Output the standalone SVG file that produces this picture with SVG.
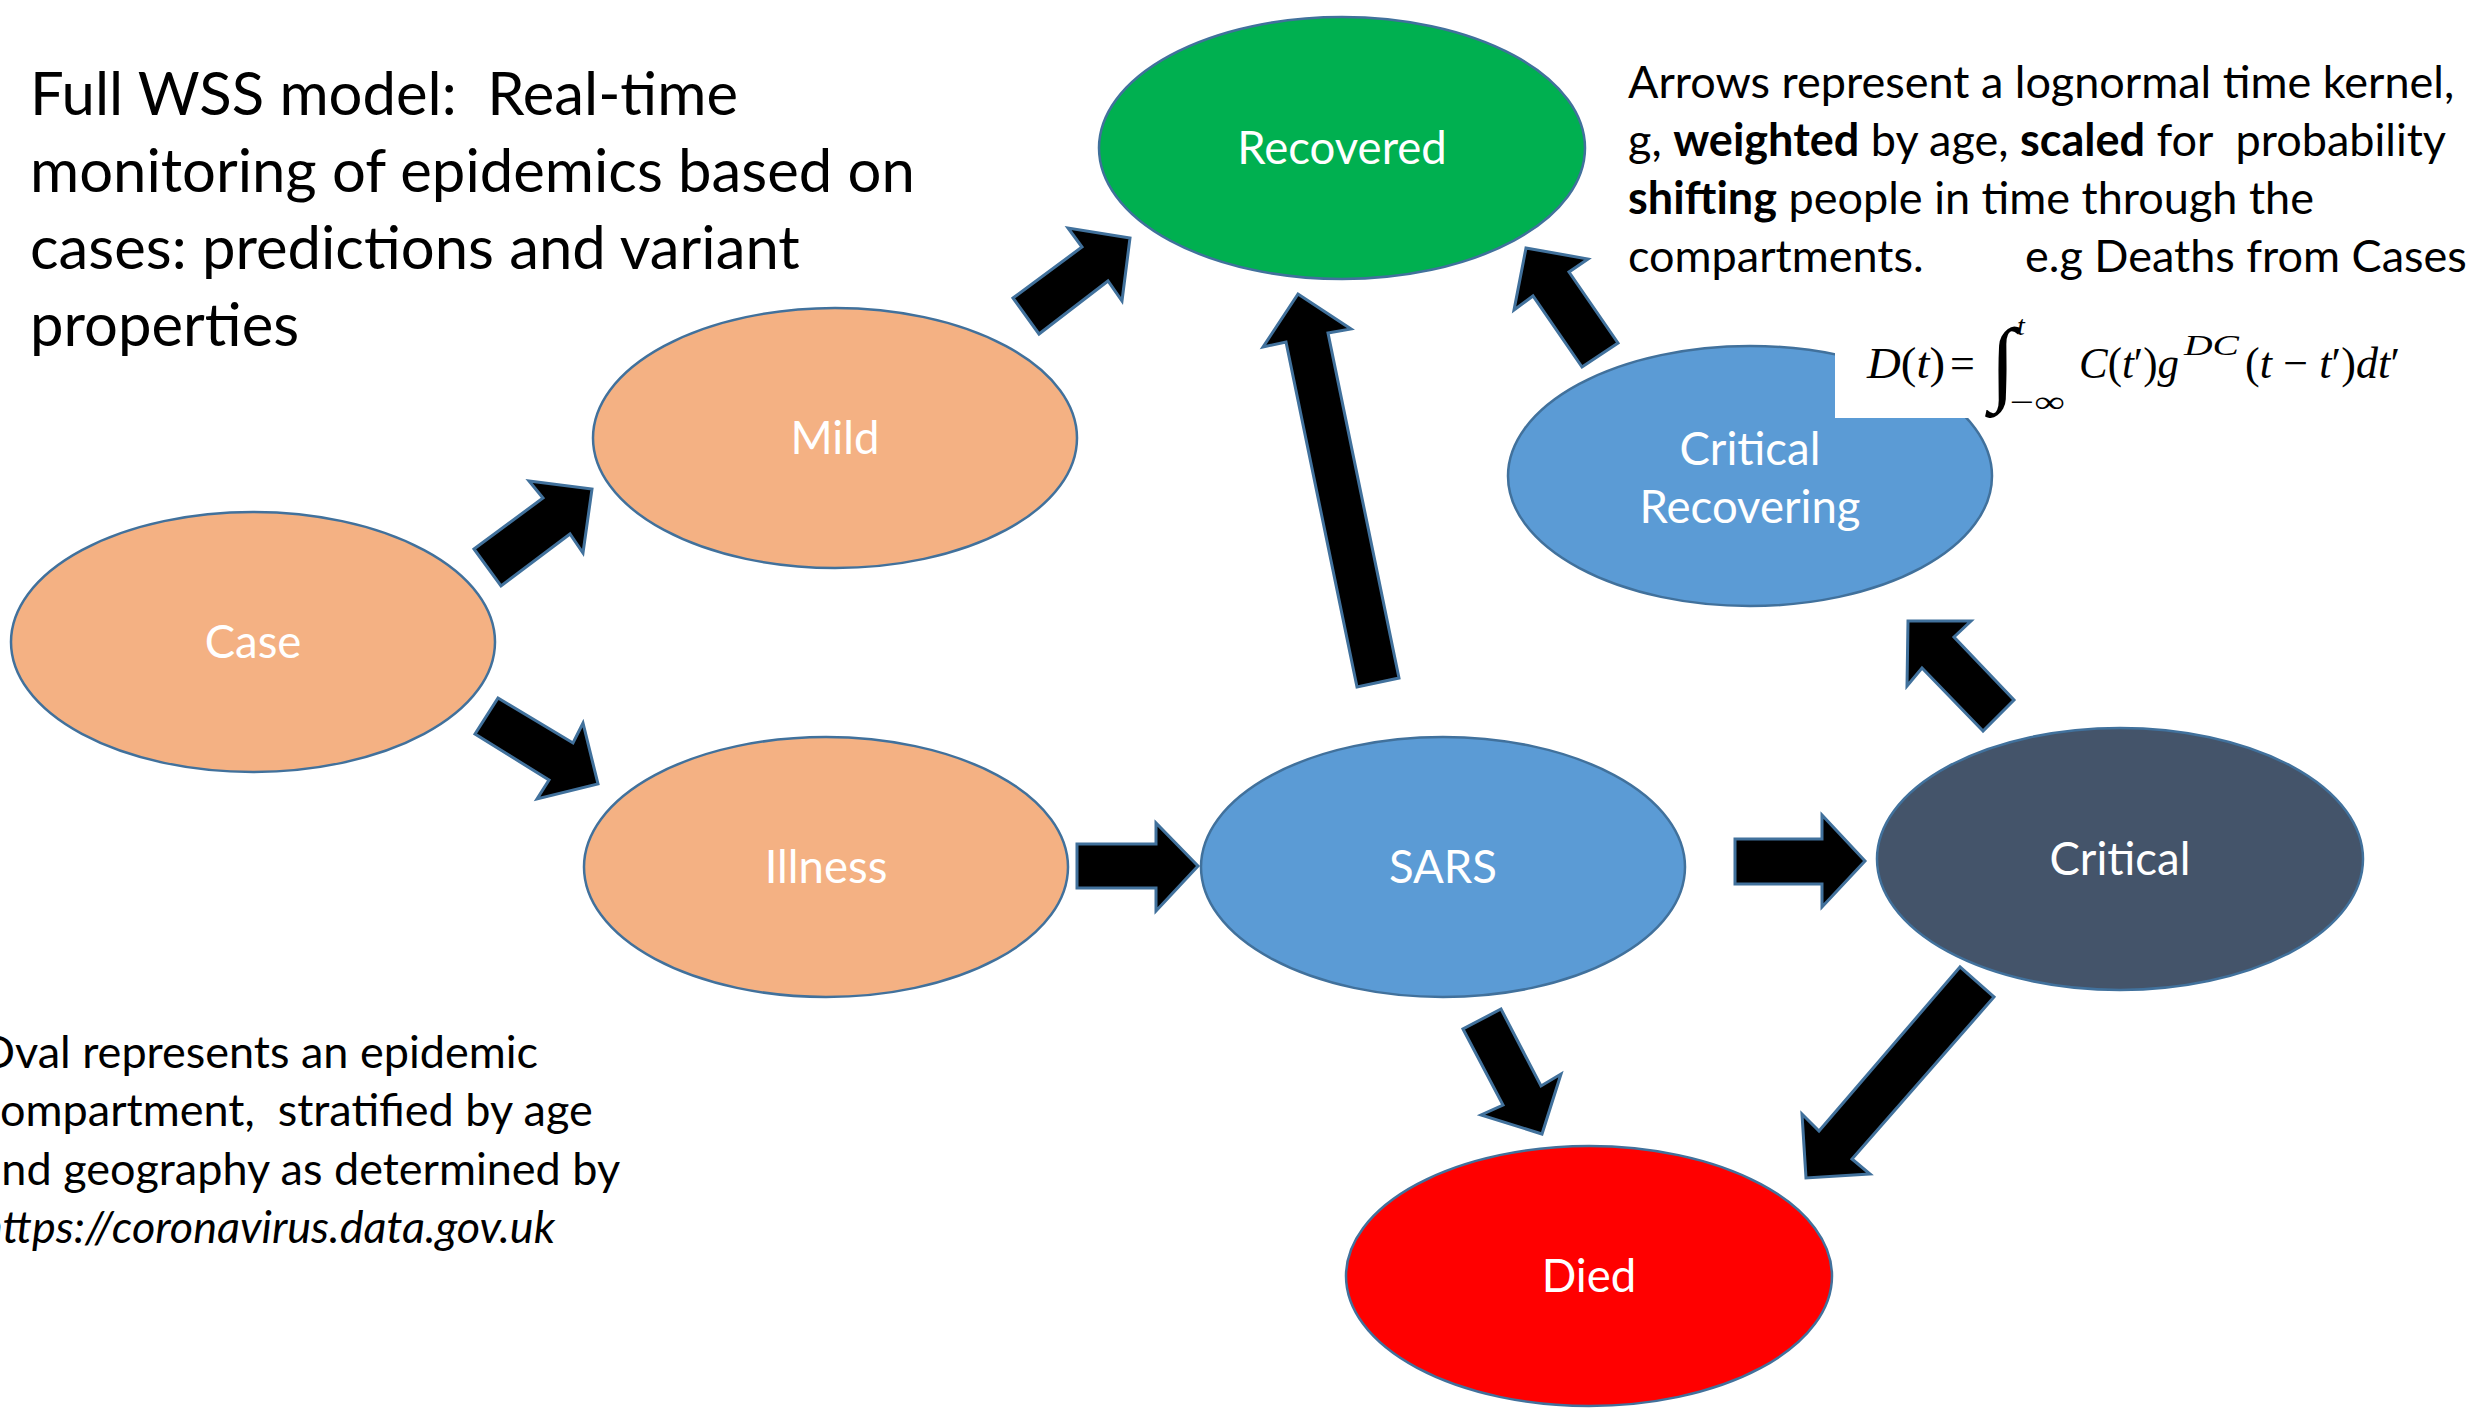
<svg xmlns="http://www.w3.org/2000/svg" width="2481" height="1408" viewBox="0 0 2481 1408">
<style>
.node ellipse{stroke:#41719C;stroke-width:2.5}
.lbl{font-family:Lato,"Open Sans",sans-serif;font-size:45.5px;fill:#fff;text-anchor:middle}
.arrow{fill:#000;stroke:#41719C;stroke-width:3;stroke-linejoin:miter}
.body{font-family:Lato,"Open Sans",sans-serif;font-size:45px;fill:#000;white-space:pre}
.title{font-family:Lato,"Open Sans",sans-serif;font-size:59.8px;fill:#000;white-space:pre}
.math{font-family:"Liberation Serif","DejaVu Serif",serif;fill:#000}
.peach{fill:#F4B183}.blue{fill:#5B9BD5}
</style>
<rect width="2481" height="1408" fill="#fff"/>
<g id="title">
<text class="title" x="30" y="115" xml:space="preserve">Full WSS model:  Real-time</text>
<text class="title" x="30" y="192">monitoring of epidemics based on</text>
<text class="title" x="30" y="269">cases: predictions and variant</text>
<text class="title" x="30" y="346">properties</text>
</g>
<g id="node-recovered" class="node"><ellipse cx="1342" cy="148" rx="243" ry="131" fill="#00B050"/><text class="lbl" x="1342" y="164">Recovered</text></g>
<g id="node-mild" class="node"><ellipse class="peach" cx="835" cy="438" rx="242" ry="130"/><text class="lbl" x="835" y="454">Mild</text></g>
<g id="node-case" class="node"><ellipse class="peach" cx="253" cy="642" rx="242" ry="130"/><text class="lbl" x="253" y="658">Case</text></g>
<g id="node-illness" class="node"><ellipse class="peach" cx="826" cy="867" rx="242" ry="130"/><text class="lbl" x="826" y="883">Illness</text></g>
<g id="node-sars" class="node"><ellipse class="blue" cx="1443" cy="867" rx="242" ry="130"/><text class="lbl" x="1443" y="883">SARS</text></g>
<g id="node-critical" class="node"><ellipse cx="2120" cy="859" rx="243" ry="131" fill="#44546A"/><text class="lbl" x="2120" y="875">Critical</text></g>
<g id="node-critical-recovering" class="node"><ellipse class="blue" cx="1750" cy="476" rx="242" ry="130"/><text class="lbl" x="1750" y="465">Critical</text><text class="lbl" x="1750" y="523">Recovering</text></g>
<g id="node-died" class="node"><ellipse cx="1589" cy="1276" rx="243" ry="130" fill="#FF0000"/><text class="lbl" x="1589" y="1292">Died</text></g>
<g id="connectors">
<polygon class="arrow" points="474,549 543,498 529,481 592,489 583,553 570,534 501,586"/>
<polygon class="arrow" points="498,698 573,743 583,723 598,784 537,799 549,780 475,734"/>
<polygon class="arrow" points="1013,298 1082,247 1068,228 1130,238 1122,301 1108,281 1039,334"/>
<polygon class="arrow" points="1077,844 1156,844 1156,823 1198,866 1156,911 1156,888 1077,888"/>
<polygon class="arrow" points="1357,687 1286,342 1263,347 1298,294 1351,329 1328,333 1399,678"/>
<polygon class="arrow" points="1582,367 1533,296 1514,310 1526,248 1588,259 1569,272 1618,343"/>
<polygon class="arrow" points="1735,839 1822,839 1822,815 1865,861 1822,907 1822,884 1735,884"/>
<polygon class="arrow" points="1983,731 1922,668 1907,686 1908,621 1971,621 1954,637 2014,700"/>
<polygon class="arrow" points="1463,1029 1503,1105 1481,1115 1542,1134 1561,1074 1541,1086 1501,1009"/>
<polygon class="arrow" points="1960,967 1819,1131 1802,1114 1806,1178 1870,1174 1852,1159 1994,997"/>
</g>
<g id="description">
<text class="body" x="1628" y="98">Arrows represent a lognormal time kernel,</text>
<text class="body" x="1628" y="156" xml:space="preserve">g, <tspan font-weight="bold">weighted</tspan> by age, <tspan font-weight="bold">scaled</tspan> for  probability</text>
<text class="body" x="1628" y="214" xml:space="preserve"><tspan font-weight="bold">shifting</tspan> people in time through the</text>
<text class="body" x="1628" y="272">compartments.<tspan x="2025">e.g Deaths from Cases</tspan></text>
</g>
<g id="formula">
<rect x="1835" y="300" width="620" height="118" fill="#fff"/>
<text class="math" font-size="44" x="1867" y="378" textLength="78" lengthAdjust="spacingAndGlyphs"><tspan font-style="italic">D</tspan>(<tspan font-style="italic">t</tspan>)</text>
<text class="math" font-size="44" x="1950" y="378">=</text>
<text class="math" font-size="93" x="1990" y="393">∫</text>
<text class="math" font-size="28" font-style="italic" x="2017" y="335">t</text>
<text class="math" font-size="30" x="2010" y="412" textLength="55" lengthAdjust="spacingAndGlyphs">−∞</text>
<text class="math" font-size="44" x="2079" y="378" textLength="100" lengthAdjust="spacingAndGlyphs"><tspan font-style="italic">C</tspan>(<tspan font-style="italic">t</tspan>′)<tspan font-style="italic">g</tspan></text>
<text class="math" font-size="30" font-style="italic" x="2184" y="355" textLength="55" lengthAdjust="spacingAndGlyphs">DC</text>
<text class="math" font-size="44" x="2245" y="378" textLength="155" lengthAdjust="spacing">(<tspan font-style="italic">t</tspan> − <tspan font-style="italic">t</tspan>′)<tspan font-style="italic">dt</tspan>′</text>
</g>
<g id="legend">
<text class="body" x="-21" y="1068">Oval represents an epidemic</text>
<text class="body" x="-21" y="1126" xml:space="preserve">compartment,  stratified by age</text>
<text class="body" x="-21" y="1185">and geography as determined by</text>
<text class="body" x="-21" y="1243" font-style="italic">https://coronavirus.data.gov.uk</text>
</g>
</svg>
